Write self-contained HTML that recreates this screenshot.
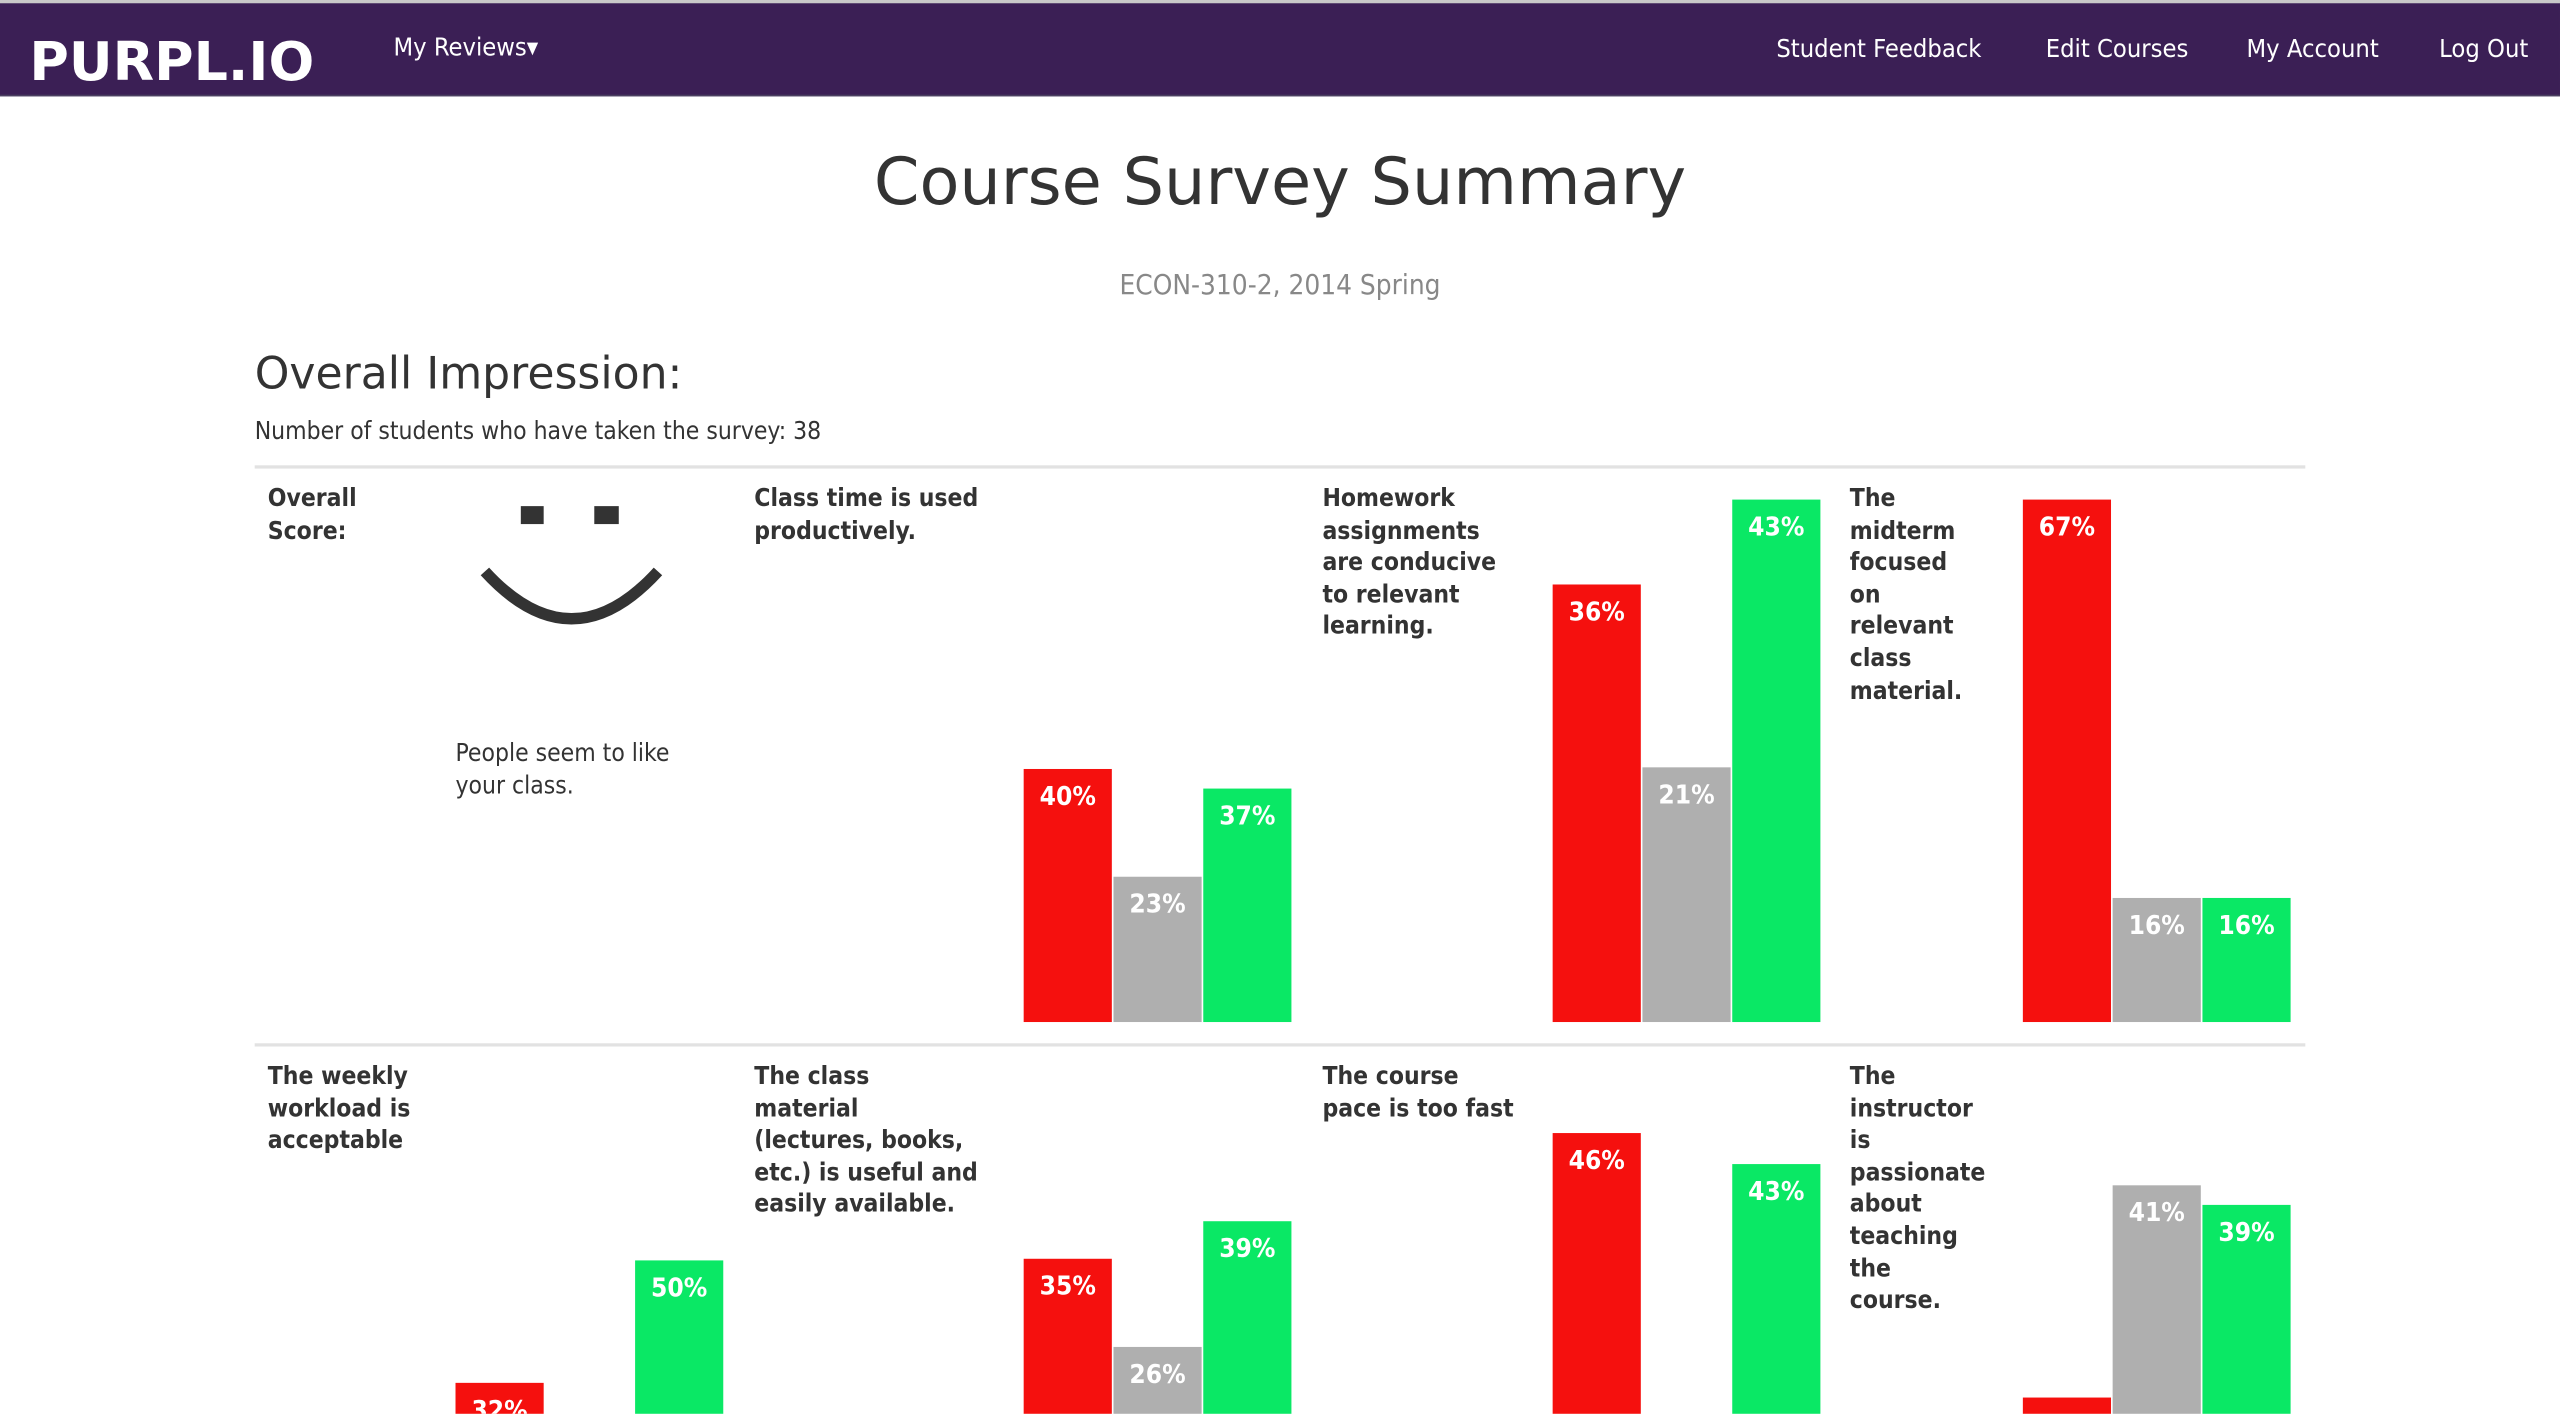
<!DOCTYPE html>
<html><head><meta charset="utf-8">
<style>
html,body{margin:0;padding:0;background:#fff;overflow:hidden;width:2560px;height:1414px}
#stage{position:absolute;left:0;top:0;width:1568px;height:866px;overflow:hidden;transform:scale(1.63265);transform-origin:0 0;font-family:"DejaVu Sans Condensed","DejaVu Sans",sans-serif;color:#333}
.abs{position:absolute;white-space:nowrap}
.nav{position:absolute;left:0;top:0;width:1568px;height:59px;background:#3b1f55;border-top:2px solid #c8c8c8;box-sizing:border-box;border-bottom:1px solid #4a4060}
.nl{position:absolute;top:19px;color:#fff;font-size:15.5px}
.q{position:absolute;font-weight:bold;font-size:15px;line-height:19.6px;color:#333}
.hr{position:absolute;left:156px;width:1256px;height:2px;background:#e2e2e2}
.bar{position:absolute;color:#fff;font-weight:bold;font-size:16px;text-align:center;box-sizing:border-box;padding-top:7px;overflow:hidden;font-family:"DejaVu Sans Condensed","DejaVu Sans",sans-serif}
</style></head><body>
<div id="stage">
<div class="nav">
 <div class="abs" style="left:18px;top:16px;color:#fff;font-weight:bold;font-size:33px;font-family:'DejaVu Sans','Liberation Sans',sans-serif">PURPL.IO</div>
 <div class="nl abs" style="left:241px;top:18px">My Reviews▾</div>
 <div class="nl abs" style="left:1088px">Student Feedback</div>
 <div class="nl abs" style="left:1253px">Edit Courses</div>
 <div class="nl abs" style="left:1376px">My Account</div>
 <div class="nl abs" style="left:1494px">Log Out</div>
</div>
<div class="abs" style="left:0;width:1568px;text-align:center;top:89px;font-size:40px;font-family:'DejaVu Sans',sans-serif;color:#333">Course Survey Summary</div>
<div class="abs" style="left:0;width:1568px;text-align:center;top:165px;font-size:17px;color:#888">ECON-310-2, 2014 Spring</div>
<div class="abs" style="left:156px;top:214px;font-size:27px;font-family:'DejaVu Sans',sans-serif;color:#333">Overall Impression:</div>
<div class="abs" style="left:156px;top:255px;font-size:15px;color:#333">Number of students who have taken the survey: 38</div>
<div class="hr" style="top:285px"></div>
<div class="hr" style="top:639px"></div>

<div class="q" style="left:164px;top:296px">Overall<br>Score:</div>
<svg class="abs" style="left:0;top:0" width="1568" height="866">
 <rect x="319" y="310" width="14" height="11" fill="#333"/>
 <rect x="364" y="310" width="15" height="11" fill="#333"/>
 <path d="M297 350 Q350 408 403 350" stroke="#333" stroke-width="7" fill="none"/>
</svg>
<div class="abs" style="left:279px;top:452px;font-size:15px;line-height:19.6px">People seem to like<br>your class.</div>

<div class="q" style="left:462px;top:296px">Class time is used<br>productively.</div>
<div class="q" style="left:810px;top:296px">Homework<br>assignments<br>are conducive<br>to relevant<br>learning.</div>
<div class="q" style="left:1133px;top:296px">The<br>midterm<br>focused<br>on<br>relevant<br>class<br>material.</div>
<div class="q" style="left:164px;top:650px">The weekly<br>workload is<br>acceptable</div>
<div class="q" style="left:462px;top:650px">The class<br>material<br>(lectures, books,<br>etc.) is useful and<br>easily available.</div>
<div class="q" style="left:810px;top:650px">The course<br>pace is too fast</div>
<div class="q" style="left:1133px;top:650px">The<br>instructor<br>is<br>passionate<br>about<br>teaching<br>the<br>course.</div>
<div id="bars"></div>
</div>
<script>
const questions=["class-time","homework","midterm","workload","material","pace","instructor"];
const disagree=[40,36,67,32,35,46,20];
const neutral=[23,21,16,18,26,11,41];
const agree=[37,43,16,50,39,43,39];
const axisMax=[82.7,43,67,76.8,53.7,51.5,51.6];
const chartX=[627,951,1239,279,627,951,1239];
const chartBase=[626,626,626,980,980,980,980];
const plotH=320, barW=54, gap=1, viewBottom=866;
const colors=["#f5100e","#afafaf","#0ae865"];
const series=[disagree,neutral,agree];
const sname=["disagree","neutral","agree"];
const host=document.getElementById('bars');
questions.forEach((q,i)=>{
 const y=v=>chartBase[i]-v/axisMax[i]*plotH;
 series.forEach((s,j)=>{
  const top=y(s[i]);
  const bottom=Math.min(chartBase[i],viewBottom);
  if(top>=bottom) return;
  const el=document.createElement('div');
  el.className='bar';
  
  
  el.style.left=(chartX[i]+j*(barW+gap))+'px';
  el.style.top=top+'px';
  el.style.width=barW+'px';
  el.style.height=(bottom-top)+'px';
  el.style.background=colors[j];
  el.textContent=s[i]+'%';
  host.appendChild(el);
 });
});
</script>
</body></html>
